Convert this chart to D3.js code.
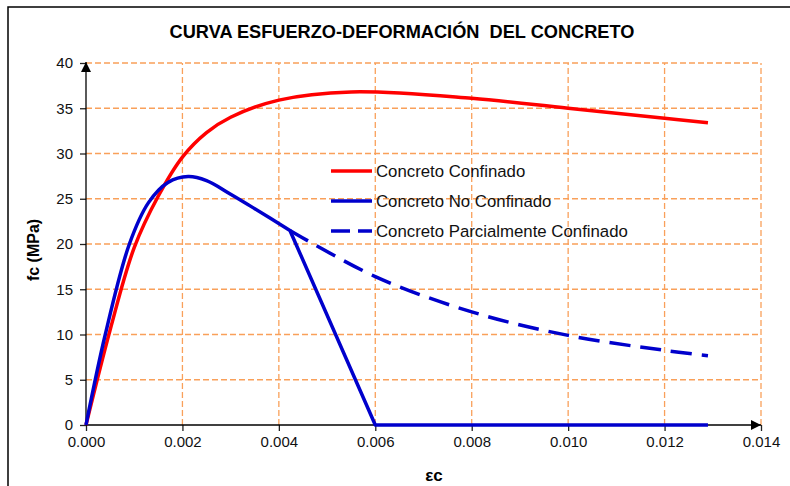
<!DOCTYPE html>
<html>
<head>
<meta charset="utf-8">
<script src="https://cdn.jsdelivr.net/npm/d3@7"></script>
<style>
  body { margin: 0; background: #fff; }
  svg { display: block; font-family: "Liberation Sans", Arial, sans-serif; }
</style>
</head>
<body>
<svg id="chart" width="790" height="486"></svg>
<script>
// strain (εc) / stress (fc, MPa) pairs
const confinedStrain = [0, 0.0005, 0.001, 0.0015, 0.002, 0.0025, 0.003, 0.004, 0.0055, 0.008, 0.010, 0.012, 0.0129];
const confinedStress = [0, 10.5, 19.6, 25.3, 29.6, 32.3, 34.0, 35.9, 36.8, 36.1, 35.0, 33.9, 33.4];

const unconfinedStrain = [0, 0.0004, 0.0009, 0.0013, 0.0017, 0.00212, 0.0025, 0.003, 0.0035, 0.00423, 0.006, 0.0129];
const unconfinedStress = [0, 10, 20, 24.6, 26.8, 27.45, 27.0, 25.5, 23.9, 21.5, 0, 0];

const partialStrain = [0.00423, 0.006, 0.008, 0.010, 0.012, 0.0129];
const partialStress = [21.5, 16.4, 12.5, 9.9, 8.25, 7.65];

const xTicks = [0, 0.002, 0.004, 0.006, 0.008, 0.010, 0.012, 0.014];
const yTicks = [0, 5, 10, 15, 20, 25, 30, 35, 40];

const seriesNames = ['Concreto Confinado', 'Concreto No Confinado', 'Concreto Parcialmente Confinado'];

const svg = d3.select('#chart');
const margin = {left: 86, right: 29, top: 63, bottom: 61};
const W = 790, H = 486;

const x = d3.scaleLinear().domain([0, 0.014]).range([margin.left, W - margin.right]);
const y = d3.scaleLinear().domain([0, 40]).range([H - margin.bottom, margin.top]);

// outer frame (only top and left edges fall inside the picture)
svg.append('rect')
    .attr('x', 8).attr('y', 7)
    .attr('width', 900).attr('height', 600)
    .attr('fill', 'none')
    .attr('stroke', '#000')
    .attr('stroke-width', 1.5);

// title
svg.append('text')
    .attr('x', 402).attr('y', 38)
    .attr('text-anchor', 'middle')
    .attr('font-size', 18.2)
    .attr('font-weight', 'bold')
    .style('white-space', 'pre')
    .text('CURVA ESFUERZO-DEFORMACIÓN  DEL CONCRETO');

// grid
const grid = svg.append('g')
    .attr('stroke', '#f9a05a')
    .attr('stroke-width', 1.3)
    .attr('stroke-dasharray', '6,3');

grid.selectAll('line.h')
    .data(yTicks.slice(1))
    .enter().append('line')
    .attr('x1', x(0)).attr('x2', x(0.014))
    .attr('y1', d => y(d)).attr('y2', d => y(d));

grid.selectAll('line.v')
    .data(xTicks.slice(1))
    .enter().append('line')
    .attr('x1', d => x(d)).attr('x2', d => x(d))
    .attr('y1', y(0)).attr('y2', y(40));

// axes
const xAxis = d3.axisBottom(x).tickValues(xTicks).tickSize(6).tickPadding(5).tickFormat(d3.format('.3f'));
const yAxis = d3.axisLeft(y).tickValues(yTicks).tickSize(6).tickPadding(7).tickFormat(d3.format('d'));

const gx = svg.append('g')
    .attr('transform', `translate(0,${y(0)})`)
    .call(xAxis);
const gy = svg.append('g')
    .attr('transform', `translate(${x(0)},0)`)
    .call(yAxis);

[gx, gy].forEach(g => {
    g.select('.domain').remove();
    g.selectAll('line').attr('stroke', '#222').attr('stroke-width', 1.3);
    g.selectAll('text').attr('fill', '#111').attr('font-size', 15)
        .attr('font-family', '"Liberation Sans", Arial, sans-serif');
});

// axis lines with arrow heads
const defs = svg.append('defs');
defs.append('marker')
    .attr('id', 'arrow')
    .attr('viewBox', '0 0 10 10')
    .attr('refX', 10).attr('refY', 5)
    .attr('markerWidth', 10).attr('markerHeight', 10)
    .attr('markerUnits', 'userSpaceOnUse')
    .attr('orient', 'auto')
    .append('path')
    .attr('d', 'M0,0 L10,5 L0,10 Z')
    .attr('fill', '#000');

svg.append('line')
    .attr('x1', x(0)).attr('x2', x(0.014))
    .attr('y1', y(0)).attr('y2', y(0))
    .attr('stroke', '#000').attr('stroke-width', 1.3)
    .attr('marker-end', 'url(#arrow)');

svg.append('line')
    .attr('x1', x(0)).attr('x2', x(0))
    .attr('y1', y(0)).attr('y2', y(40) - 1)
    .attr('stroke', '#000').attr('stroke-width', 1.3)
    .attr('marker-end', 'url(#arrow)');

// axis titles
svg.append('text')
    .attr('x', 434).attr('y', 481)
    .attr('text-anchor', 'middle')
    .attr('font-size', 17)
    .attr('font-weight', 'bold')
    .text('εc');

svg.append('text')
    .attr('transform', 'translate(39,250) rotate(-90)')
    .attr('text-anchor', 'middle')
    .attr('font-size', 16)
    .attr('font-weight', 'bold')
    .text('fc (MPa)');

// curves
const smooth = d3.line()
    .curve(d3.curveCatmullRom.alpha(0.5))
    .x(d => x(d[0]))
    .y(d => y(d[1]));
const straight = d3.line()
    .x(d => x(d[0]))
    .y(d => y(d[1]));

const zip = (a, b) => a.map((v, i) => [v, b[i]]);

svg.append('path')
    .attr('d', smooth(zip(confinedStrain, confinedStress)))
    .attr('fill', 'none')
    .attr('stroke', '#ff0000')
    .attr('stroke-width', 3.5)
    .attr('stroke-linejoin', 'round');

// unconfined: smooth rising part, then straight segments
const unconf = zip(unconfinedStrain, unconfinedStress);
const kink = unconfinedStrain.indexOf(0.00423);
svg.append('path')
    .attr('d', smooth(unconf.slice(0, kink + 1)) + straight(unconf.slice(kink)).replace('M', 'L'))
    .attr('fill', 'none')
    .attr('stroke', '#0000cc')
    .attr('stroke-width', 3.5)
    .attr('stroke-linejoin', 'round');

svg.append('path')
    .attr('d', smooth(zip(partialStrain, partialStress)))
    .attr('fill', 'none')
    .attr('stroke', '#0000cc')
    .attr('stroke-width', 3.5)
    .attr('stroke-dasharray', '21,10');

// legend
const legendStyles = [
    {color: '#ff0000', dash: null},
    {color: '#0000cc', dash: null},
    {color: '#0000cc', dash: '19,8'}
];
const legend = svg.append('g');
seriesNames.forEach((name, i) => {
    const ly = 171 + i * 30;
    legend.append('line')
        .attr('x1', 331).attr('x2', 372)
        .attr('y1', ly).attr('y2', ly)
        .attr('stroke', legendStyles[i].color)
        .attr('stroke-width', 3.5)
        .attr('stroke-dasharray', legendStyles[i].dash);
    legend.append('text')
        .attr('x', 376).attr('y', ly + 6)
        .attr('font-size', 16.8)
        .attr('fill', '#111')
        .text(name);
});
</script>
</body>
</html>
